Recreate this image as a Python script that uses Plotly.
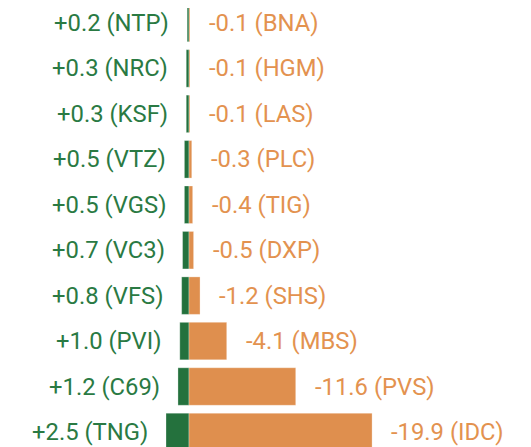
import plotly.graph_objects as go

pos_codes = ["NTP", "NRC", "KSF", "VTZ", "VGS", "VC3", "VFS", "PVI", "C69", "TNG"]
pos_values = [0.2, 0.3, 0.3, 0.5, 0.5, 0.7, 0.8, 1.0, 1.2, 2.5]
neg_codes = ["BNA", "HGM", "LAS", "PLC", "TIG", "DXP", "SHS", "MBS", "PVS", "IDC"]
neg_values = [-0.1, -0.1, -0.1, -0.3, -0.4, -0.5, -1.2, -4.1, -11.6, -19.9]

GREEN = "#24713d"
ORANGE = "#df8f4e"
GREEN_TXT = "#2a7a43"
ORANGE_TXT = "#e3924f"

rows = list(range(len(pos_codes)))

fig = go.Figure()
fig.add_trace(go.Bar(
    y=rows, x=[-v for v in pos_values], orientation="h",
    marker=dict(color=GREEN, line=dict(color="white", width=0.3)),
    hoverinfo="skip", showlegend=False,
))
fig.add_trace(go.Bar(
    y=rows, x=[abs(v) for v in neg_values], orientation="h",
    marker=dict(color=ORANGE, line=dict(color="white", width=0.3)),
    hoverinfo="skip", showlegend=False,
))

annotations = []
for r, c, v in zip(rows, pos_codes, pos_values):
    annotations.append(dict(
        x=-v, y=r, xref="x", yref="y", text=f"+{v:.1f} ({c})",
        showarrow=False, xanchor="right", yanchor="middle", xshift=-16,
        font=dict(family="Roboto", size=23.8, color=GREEN_TXT),
    ))
for r, c, v in zip(rows, neg_codes, neg_values):
    annotations.append(dict(
        x=abs(v), y=r, xref="x", yref="y", text=f"{v:.1f} ({c})",
        showarrow=False, xanchor="left", yanchor="middle", xshift=17,
        font=dict(family="Roboto", size=23.8, color=ORANGE_TXT),
    ))

px_per_unit = 9.2
zero_px = 181
fig.update_layout(
    width=531, height=447,
    margin=dict(l=0, r=0, t=0, b=0),
    paper_bgcolor="white", plot_bgcolor="white",
    barmode="relative", bargap=0.175,
    annotations=annotations,
    xaxis=dict(range=[-zero_px / px_per_unit, (531 - zero_px) / px_per_unit],
               visible=False, fixedrange=True),
    yaxis=dict(range=[9.507, -0.330], visible=False, fixedrange=True),
    font=dict(family="Roboto"),
)

fig.write_html("out.html")
